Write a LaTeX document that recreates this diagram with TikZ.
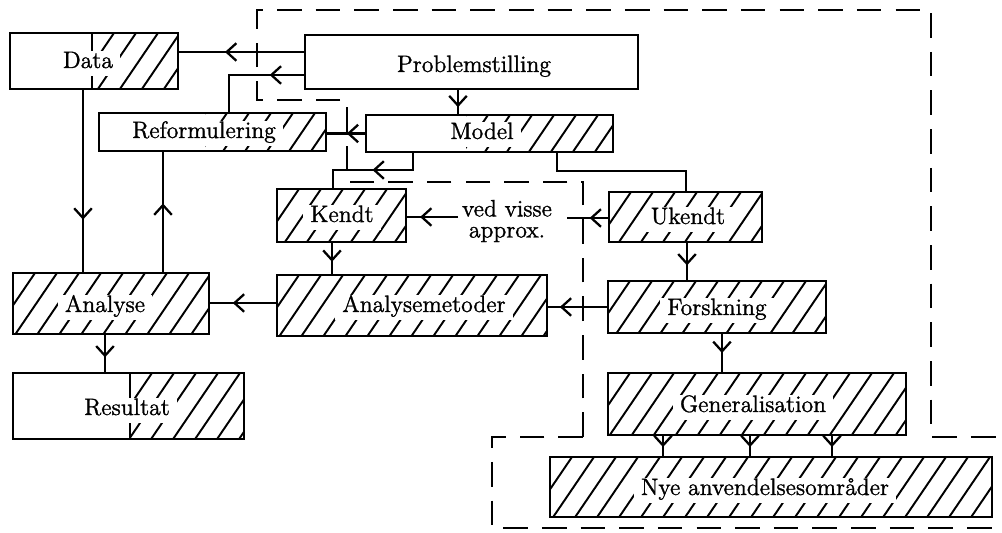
\documentclass[tikz,border=0pt]{standalone}
\usepackage{fontspec}
\newfontfamily\heavyfont{Latin Modern Roman}[RawFeature={embolden=1.3}]
\usetikzlibrary{arrows.meta,decorations.markings,calc}
\tikzset{
  x=0.02cm, y=-0.02cm,
  box/.style={draw, line width=1.6pt, inner sep=0pt, outer sep=0pt},
  divider/.style={line width=1.6pt},
  hatchline/.style={line width=1.1pt},
  txt/.style={fill=white, inner xsep=4pt, inner ysep=2.5pt, text height=0.7em, text depth=0.22em, anchor=base, font=\heavyfont\fontsize{13.5}{15}\selectfont},
  plaintxt/.style={inner xsep=2pt, inner ysep=1pt, align=center, font=\heavyfont\fontsize{13.5}{12}\selectfont},
  conn/.style={line width=1.4pt},
  midarr/.style={decoration={markings, mark=at position #1 with {\arrow{Straight Barb[length=5.5pt,width=10pt,line width=1.3pt]}}}, postaction={decorate}},
  dashln/.style={line width=1.6pt, dash pattern=on 14pt off 8pt}
}
\newcommand{\myhatch}[4]{%
  \begin{scope}
    \clip (#1,#2) rectangle (#3,#4);
    \pgfmathsetmacro{\hH}{#4-#2}
    \pgfmathsetmacro{\hD}{0.68*\hH}
    \pgfmathsetmacro{\hS}{#1-\hD}
    \pgfmathsetmacro{\hT}{\hS+22}
    \foreach \s in {\hS,\hT,...,#3} {\draw[hatchline] (\s,#4) -- ++(\hD,-\hH);}
  \end{scope}}
\newcommand{\mybox}[5]{%
  \pgfmathsetmacro{\bW}{(#4-#2)*0.02}
  \pgfmathsetmacro{\bH}{(#5-#3)*0.02}
  \node[box, minimum width=\bW cm, minimum height=\bH cm] (#1) at ({(#2+#4)/2},{(#3+#5)/2}) {};}
\begin{document}
\begin{tikzpicture}
\useasboundingbox (0,0) rectangle (1002,533);
% hatching
\myhatch{92}{33}{178}{89}
\myhatch{205}{113}{326}{151}
\myhatch{466}{115}{613}{152}
\myhatch{277}{189}{406}{242}
\myhatch{609}{192}{762}{242}
\myhatch{277}{275}{547}{336}
\myhatch{608}{281}{826}{333}
\myhatch{608}{373}{906}{435}
\myhatch{550}{457}{992}{517}
\myhatch{13}{273}{209}{334}
\myhatch{130}{373}{244}{439}
% boxes
\mybox{data}{10}{33}{178}{89}
\mybox{prob}{305}{35}{638}{89}
\mybox{ref}{99}{113}{326}{151}
\mybox{model}{366}{115}{613}{152}
\mybox{kendt}{277}{189}{406}{242}
\mybox{ukendt}{609}{192}{762}{242}
\mybox{anam}{277}{275}{547}{336}
\mybox{forsk}{608}{281}{826}{333}
\mybox{gen}{608}{373}{906}{435}
\mybox{nye}{550}{457}{992}{517}
\mybox{analyse}{13}{273}{209}{334}
\mybox{result}{13}{373}{244}{439}
\draw[divider] (92,0 |- data.north) -- (92,0 |- data.south);
\draw[divider] (130,0 |- result.north) -- (130,0 |- result.south);
% texts
\node[txt] (tdata) at (88,68) {Data};
\node[txt] (tprob) at (474,72) {Problemstilling};
\node[txt] (tref) at (204,138) {Reformulering};
\node[txt] (tmodel) at (482,139) {Model};
\node[txt] (tkendt) at (342,222) {Kendt};
\node[txt] (tukendt) at (688,224) {Ukendt};
\node[txt] (tanam) at (424,312) {Analysemetoder};
\node[txt] (tforsk) at (717,315) {Forskning};
\node[txt] (tgen) at (753,412) {Generalisation};
\node[txt] (tnye) at (765,495) {Nye anvendelsesområder};
\node[txt] (tanalyse) at (105,312) {Analyse};
\node[txt] (tresult) at (127,415) {Resultat};
\node[plaintxt] (approx) at (507,221) {ved visse\\approx.};
\coordinate (apR) at ([xshift=0.22cm]approx.east);
% connectors
\draw[conn, midarr=0.63] (prob.west |- 0,52) -- (data.east |- 0,52);
\draw[conn, midarr=0.31] (prob.west |- 0,75) -| (229,0 |- ref.north);
\draw[conn, midarr=0.7] (458,0 |- prob.south) -- (458,0 |- model.north);
\draw[conn, midarr=0.48] (model.west) -- (model.west -| ref.east);
\draw[conn, midarr=0.5] (413,0 |- model.south) -- (413,170) -| (333,0 |- kendt.north);
\draw[conn] (557,0 |- model.south) -- (557,171) -| (686,0 |- ukendt.north);
\draw[conn, midarr=0.46] (ukendt.west |- 0,218) -- (apR |- 0,218);
\draw[conn, midarr=0.73] (approx.west |- 0,217) -- (kendt.east |- 0,217);
\draw[conn, midarr=0.6] (332,0 |- kendt.south) -- (332,0 |- anam.north);
\draw[conn, midarr=0.65] (anam.west |- 0,303) -- (analyse.east |- 0,303);
\draw[conn, midarr=0.79] (forsk.west |- 0,307) -- (anam.east |- 0,307);
\draw[conn, midarr=0.6] (687,0 |- ukendt.south) -- (687,0 |- forsk.north);
\draw[conn, midarr=0.5] (722,0 |- forsk.south) -- (722,0 |- gen.north);
\foreach \xx in {663,750,832} {\draw[conn, midarr=0.55] (\xx,0 |- gen.south) -- (\xx,0 |- nye.north);}
\draw[conn, midarr=0.71] (83,0 |- data.south) -- (83,0 |- analyse.north);
\draw[conn, midarr=0.57] (163,0 |- analyse.north) -- (163,0 |- ref.south);
\draw[conn, midarr=0.6] (105,0 |- analyse.south) -- (105,0 |- result.north);
% dashed regions
\draw[dashln] (583,437) -- (583,182) -- (347,182) -- (347,100) -- (257,100) -- (257,10) -- (931,10) -- (931,437) -- (1010,437);
\draw[dashln] (583,437) -- (492,437) -- (492,528) -- (1010,528);
\end{tikzpicture}
\end{document}
